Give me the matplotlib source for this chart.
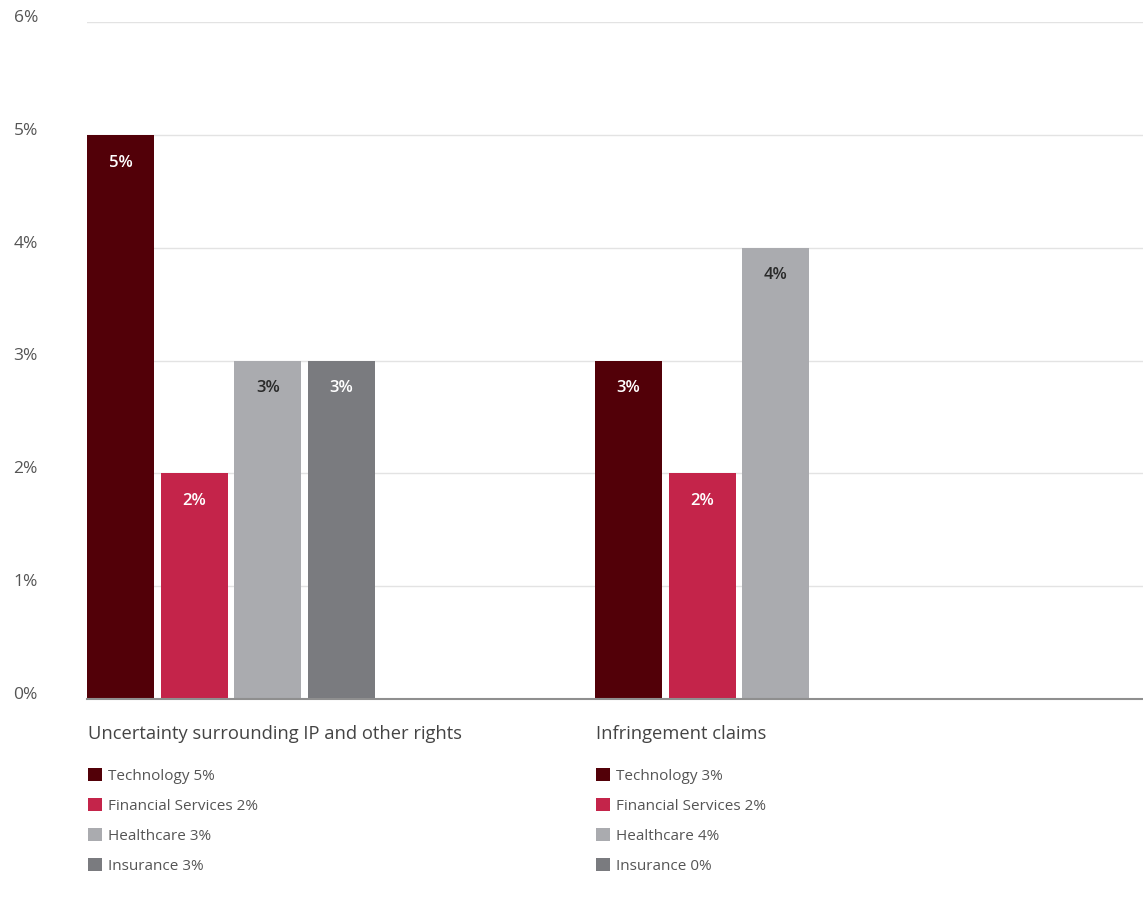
import matplotlib.pyplot as plt
from matplotlib.patches import Patch
from matplotlib.legend import Legend
from matplotlib import transforms

plt.rcParams['font.family'] = ['Open Sans', 'DejaVu Sans']

# data
groups = ['Uncertainty surrounding IP and other rights', 'Infringement claims']
sectors = ['Technology', 'Financial Services', 'Healthcare', 'Insurance']
values = [
    [5, 2, 3, 3],  # Uncertainty surrounding IP and other rights
    [3, 2, 4, 0],  # Infringement claims
]
yticks = [0, 1, 2, 3, 4, 5, 6]

colors = ['#520008', '#c4244a', '#aaabaf', '#7a7b7f']
label_colors = ['white', 'white', '#2a2a2a', 'white']
text_gray = '#555555'

bar_w = 1.0
step = 1.1
group_start = [0, 7.58]

fig = plt.figure(figsize=(11.43, 9.01), dpi=100)
ax = fig.add_axes([87 / 1143, 202 / 901, 1056 / 1143, 677 / 901])

for g, vals in enumerate(values):
    for i, v in enumerate(vals):
        x = group_start[g] + i * step + bar_w / 2
        if v <= 0:
            continue
        ax.bar(x, v, width=bar_w, color=colors[i], zorder=2)
        ax.annotate(f'{v}%', (x, v), xytext=(0, -20), textcoords='offset points',
                    ha='center', va='center', fontsize=12, fontweight='semibold',
                    color=label_colors[i], zorder=3)

ax.set_xlim(0, 15.76)
ax.set_ylim(0, 6)
ax.set_yticks(yticks)
ax.set_yticklabels([])
ax.set_xticks([])
ax.tick_params(axis='y', length=0)
ax.grid(axis='y', color='#e3e3e3', linewidth=1, zorder=0)
for s in ['top', 'right', 'left']:
    ax.spines[s].set_visible(False)
ax.spines['bottom'].set_color('#8f8f8f')
ax.spines['bottom'].set_linewidth(1.5)
ax.spines['bottom'].set_zorder(4)

# y tick labels sit slightly above the gridlines
lab_tr = transforms.blended_transform_factory(fig.transFigure, ax.transData) + \
    transforms.ScaledTranslation(0, 4 / 100, fig.dpi_scale_trans)
for t in yticks:
    ax.text(38 / 1143, t, f'{t}%', transform=lab_tr, ha='right', va='center',
            fontsize=12.5, color=text_gray)

# group titles and legends
tr = transforms.blended_transform_factory(ax.transData, fig.transFigure)
for g, name in enumerate(groups):
    gx = group_start[g]
    ax.text(gx + 0.02, 1 - 734 / 901, name, transform=tr, ha='left', va='center',
            fontsize=13.2, color='#444444')
    handles = [Patch(facecolor=colors[i], edgecolor='none') for i in range(len(sectors))]
    labels = [f'{sectors[i]} {values[g][i]}%' for i in range(len(sectors))]
    leg = Legend(ax, handles, labels, loc='upper left',
                 bbox_to_anchor=(gx + 0.02, 1 - 768 / 901), bbox_transform=tr,
                 frameon=False, fontsize=11, handlelength=0.9, handleheight=0.9,
                 handletextpad=0.4, labelspacing=0.95, borderpad=0, borderaxespad=0,
                 labelcolor=text_gray)
    ax.add_artist(leg)

fig.savefig('out.png', dpi=100)
